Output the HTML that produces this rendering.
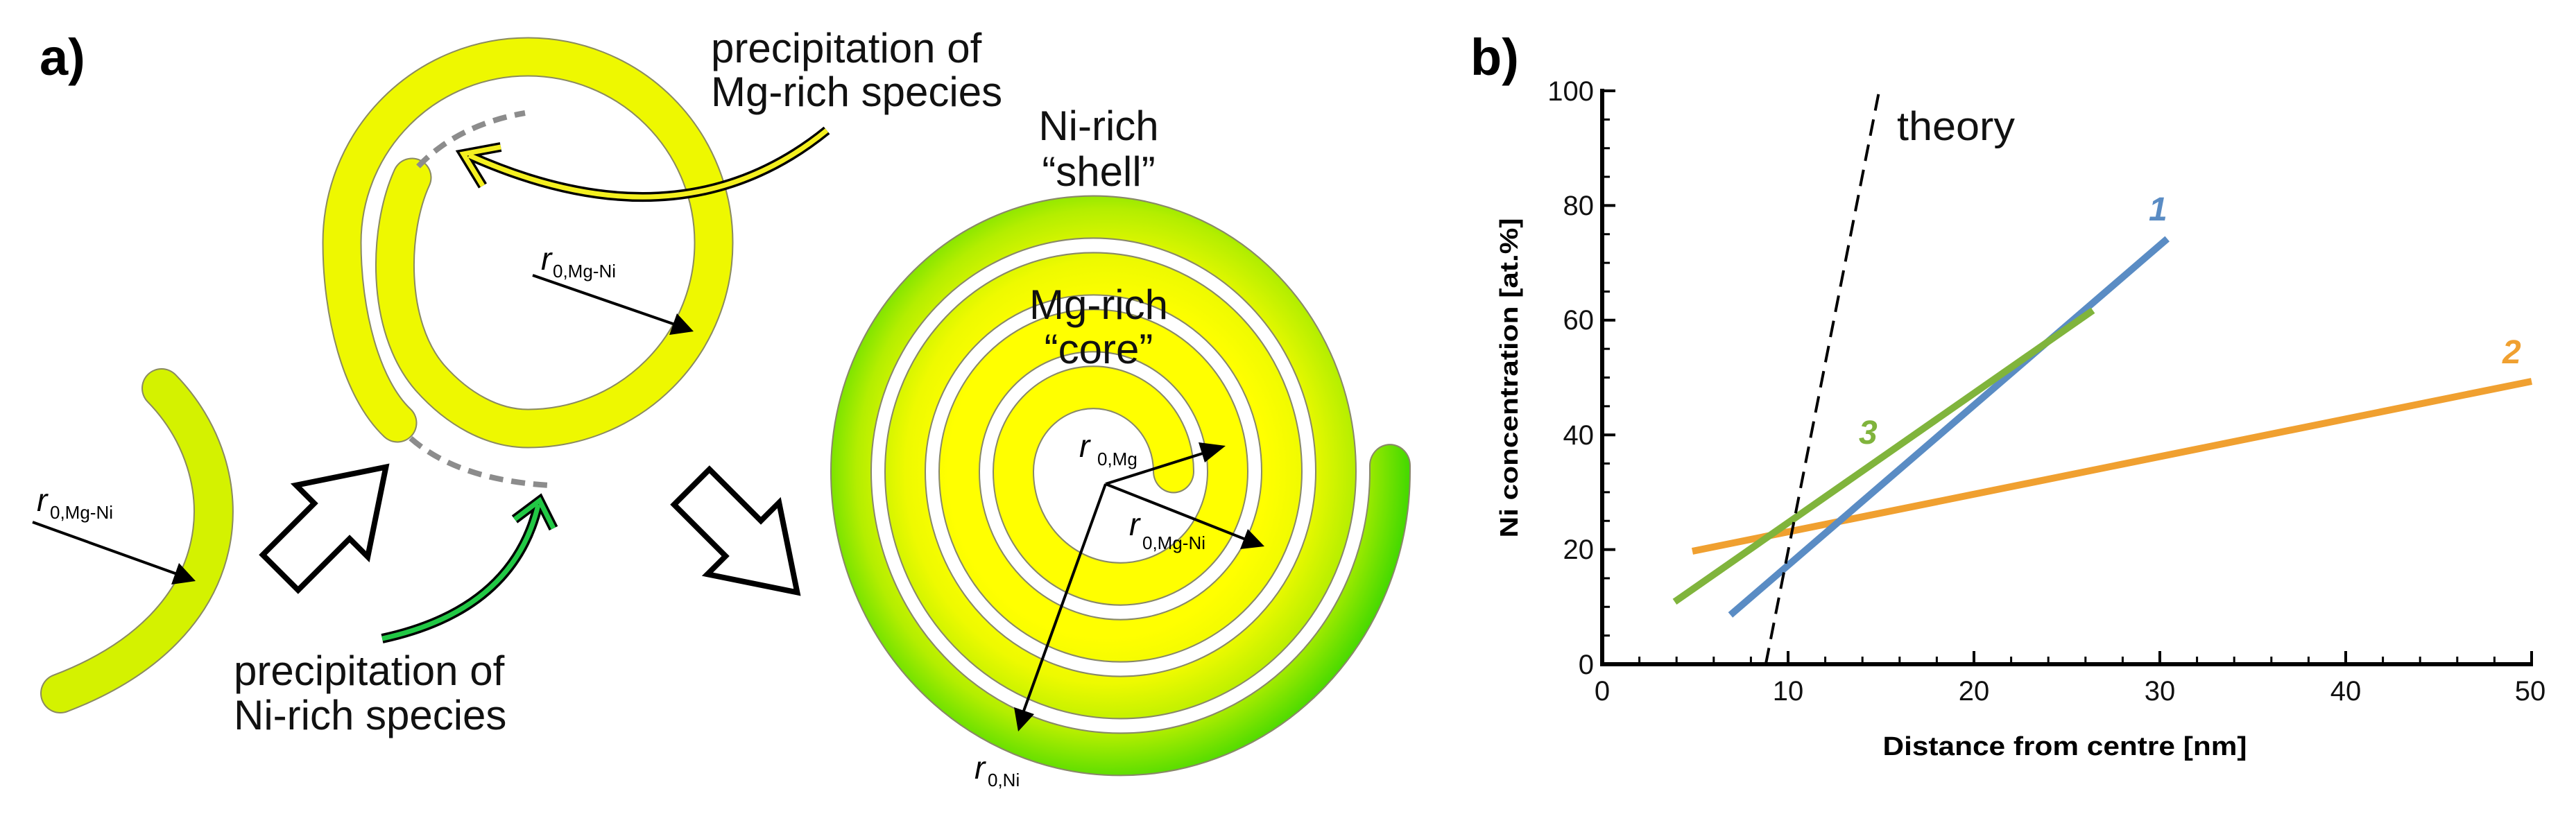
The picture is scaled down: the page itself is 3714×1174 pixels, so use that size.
<!DOCTYPE html>
<html><head><meta charset="utf-8">
<style>html,body{margin:0;padding:0;background:#fff}svg{display:block}</style>
</head><body>
<svg width="3714" height="1174" viewBox="0 0 3714 1174" xmlns="http://www.w3.org/2000/svg" font-family="Liberation Sans, Arial, sans-serif">
<defs>
<radialGradient id="sg" gradientUnits="userSpaceOnUse" cx="1596" cy="680" r="440">
<stop offset="0" stop-color="#ffff00"/>
<stop offset="0.52" stop-color="#ffff00"/>
<stop offset="0.66" stop-color="#eefa00"/>
<stop offset="0.82" stop-color="#b4ee00"/>
<stop offset="1" stop-color="#3ed800"/>
</radialGradient>
</defs>

<text x="57" y="108" font-size="74" font-weight="bold">a)</text>
<text x="2120" y="108" font-size="74" font-weight="bold">b)</text>

<!-- left arc -->
<path d="M233,560 C350,680 350,900 87,1000" fill="none" stroke="#8a8a60" stroke-width="58" stroke-linecap="round"/>
<path d="M233,560 C350,680 350,900 87,1000" fill="none" stroke="#d4f200" stroke-width="54" stroke-linecap="round"/>

<!-- top spiral ring -->
<path d="M594,256 C560,330 555,470 620,545 C660,590 710,618 761,618 A268,268 0 1 0 493,350 C493,450 520,560 573,610" fill="none" stroke="#8a8a60" stroke-width="57" stroke-linecap="round"/>
<path d="M594,256 C560,330 555,470 620,545 C660,590 710,618 761,618 A268,268 0 1 0 493,350 C493,450 520,560 573,610" fill="none" stroke="#eef800" stroke-width="53" stroke-linecap="round"/>
<!-- dashed -->
<path d="M603,240 Q660,180 757,163" fill="none" stroke="#8c8c8c" stroke-width="8" stroke-dasharray="20 12"/>
<path d="M592,632 Q660,692 792,700" fill="none" stroke="#8c8c8c" stroke-width="8" stroke-dasharray="20 12"/>

<!-- yellow arrow -->
<path d="M1192,188 Q980,360 676,224" fill="none" stroke="#000" stroke-width="14"/>
<path d="M696,268 L668,222 L722,212" fill="none" stroke="#000" stroke-width="14" stroke-linejoin="miter"/>
<path d="M1192,188 Q980,360 676,224" fill="none" stroke="#f4f020" stroke-width="7"/>
<path d="M696,268 L668,222 L722,212" fill="none" stroke="#f4f020" stroke-width="7" stroke-linejoin="miter"/>

<!-- green arrow -->
<path d="M551,921 Q740,880 776,728" fill="none" stroke="#000" stroke-width="14"/>
<path d="M742,749 L778,722 L798,762" fill="none" stroke="#000" stroke-width="14"/>
<path d="M551,921 Q740,880 776,728" fill="none" stroke="#22c845" stroke-width="7"/>
<path d="M742,749 L778,722 L798,762" fill="none" stroke="#22c845" stroke-width="7"/>

<!-- block arrows -->
<g transform="translate(480,750) rotate(-45)">
<polygon points="-107,-36 -2,-36 -2,-73 108,0 -2,73 -2,36 -107,36" fill="#fff" stroke="#000" stroke-width="8" stroke-linejoin="miter"/>
</g>
<g transform="translate(1073,778) rotate(45)">
<polygon points="-107,-36 -2,-36 -2,-73 108,0 -2,73 -2,36 -107,36" fill="#fff" stroke="#000" stroke-width="8" stroke-linejoin="miter"/>
</g>

<g font-size="60" fill="#111">
<text x="1025" y="90">precipitation of</text>
<text x="1025" y="153">Mg-rich species</text>
<text x="337" y="988">precipitation of</text>
<text x="337" y="1052">Ni-rich species</text>
<text x="1584" y="202" text-anchor="middle">Ni-rich</text>
<text x="1584" y="268" text-anchor="middle">“shell”</text>
</g>

<g stroke="#000" stroke-width="4">
<line x1="47" y1="753" x2="258" y2="829"/>
<line x1="768" y1="397" x2="976" y2="469"/>
</g>
<polygon points="282,838 247,843 258,812" fill="#000"/>
<polygon points="1000,478 965,483 976,452" fill="#000"/>
<text x="53" y="737" font-size="46" font-style="italic">r</text>
<text x="72" y="748" font-size="26">0,Mg-Ni</text>
<text x="780" y="389" font-size="46" font-style="italic">r</text>
<text x="797" y="400" font-size="26">0,Mg-Ni</text>

<!-- spiral -->
<g transform="translate(0,680) scale(1,1.05) translate(0,-680)">
<path d="M1692,680 A115.5,115.5 0 0 0 1461,680 A154.5,154.5 0 0 0 1770,680 A193.5,193.5 0 0 0 1383,680 A232.5,232.5 0 0 0 1848,680 A271.5,271.5 0 0 0 1305,680 A310.5,310.5 0 0 0 1926,680 A349.5,349.5 0 0 0 1227,680 A388.5,388.5 0 0 0 2004,680 L2004,672" fill="none" stroke="#888868" stroke-width="60" stroke-linecap="round"/>
<path d="M1692,680 A115.5,115.5 0 0 0 1461,680 A154.5,154.5 0 0 0 1770,680 A193.5,193.5 0 0 0 1383,680 A232.5,232.5 0 0 0 1848,680 A271.5,271.5 0 0 0 1305,680 A310.5,310.5 0 0 0 1926,680 A349.5,349.5 0 0 0 1227,680 A388.5,388.5 0 0 0 2004,680 L2004,672" fill="none" stroke="url(#sg)" stroke-width="56" stroke-linecap="round"/>
</g>

<g font-size="60" fill="#111">
<text x="1584" y="460" text-anchor="middle">Mg-rich</text>
<text x="1584" y="524" text-anchor="middle">“core”</text>
</g>

<g stroke="#000" stroke-width="4">
<line x1="1594" y1="698" x2="1740" y2="652"/>
<line x1="1594" y1="698" x2="1796" y2="778"/>
<line x1="1594" y1="698" x2="1475" y2="1028"/>
</g>
<polygon points="1767,643 1737,667 1728,638" fill="#000"/>
<polygon points="1823,788 1788,792 1799,763" fill="#000"/>
<polygon points="1468,1055 1462,1020 1491,1030" fill="#000"/>
<text x="1556" y="659" font-size="46" font-style="italic">r</text>
<text x="1582" y="671" font-size="26">0,Mg</text>
<text x="1628" y="772" font-size="46" font-style="italic">r</text>
<text x="1647" y="792" font-size="26">0,Mg-Ni</text>
<text x="1405" y="1123" font-size="46" font-style="italic">r</text>
<text x="1424" y="1134" font-size="26">0,Ni</text>

<!-- chart -->
<g font-family="Liberation Sans Narrow, Liberation Sans, Arial, sans-serif">
<line x1="2310" y1="128" x2="2310" y2="961" stroke="#000" stroke-width="6"/>
<line x1="2307" y1="958" x2="3652" y2="958" stroke="#000" stroke-width="6"/>
<line x1="2308.5" y1="952" x2="3660" y2="952" stroke="#000" stroke-width="10" stroke-dasharray="3 50.6"/>
<line x1="2308" y1="948" x2="3660" y2="948" stroke="#000" stroke-width="18" stroke-dasharray="4 264"/>
<line x1="2316" y1="959.5" x2="2316" y2="120" stroke="#000" stroke-width="10" stroke-dasharray="3 38.35"/>
<line x1="2320" y1="960" x2="2320" y2="120" stroke="#000" stroke-width="18" stroke-dasharray="4 161.4"/>
<g font-size="40" text-anchor="end" fill="#111">
<text x="2298" y="972">0</text>
<text x="2298" y="806">20</text>
<text x="2298" y="641">40</text>
<text x="2298" y="475">60</text>
<text x="2298" y="310">80</text>
<text x="2298" y="145">100</text>
</g>
<g font-size="40" text-anchor="middle" fill="#111">
<text x="2310" y="1010">0</text>
<text x="2578" y="1010">10</text>
<text x="2846" y="1010">20</text>
<text x="3114" y="1010">30</text>
<text x="3382" y="1010">40</text>
<text x="3648" y="1010">50</text>
</g>
<text x="2977" y="1089" font-size="38" font-weight="bold" text-anchor="middle" textLength="525" lengthAdjust="spacingAndGlyphs">Distance from centre [nm]</text>
<text transform="translate(2188,545) rotate(-90)" font-size="36" font-weight="bold" text-anchor="middle" textLength="461" lengthAdjust="spacingAndGlyphs">Ni concentration [at.%]</text>
<line x1="2440" y1="795" x2="3650" y2="550" stroke="#f0a030" stroke-width="10"/>
<line x1="2494.9" y1="886.9" x2="3124.7" y2="344.4" stroke="#5a8cc4" stroke-width="10"/>
<line x1="2414.5" y1="867.9" x2="3017.5" y2="447.7" stroke="#80b43c" stroke-width="10"/>
<line x1="2545.8" y1="958" x2="2709.3" y2="131" stroke="#000" stroke-width="4" stroke-dasharray="24 13"/>
<text x="2735" y="202" font-size="58" fill="#111" textLength="170" lengthAdjust="spacingAndGlyphs">theory</text>
<text x="3098" y="318" font-size="48" font-weight="bold" font-style="italic" fill="#5a8cc4">1</text>
<text x="3608" y="524" font-size="48" font-weight="bold" font-style="italic" fill="#f0a030">2</text>
<text x="2680" y="640" font-size="48" font-weight="bold" font-style="italic" fill="#80b43c">3</text>
</g>
</svg>
</body></html>
